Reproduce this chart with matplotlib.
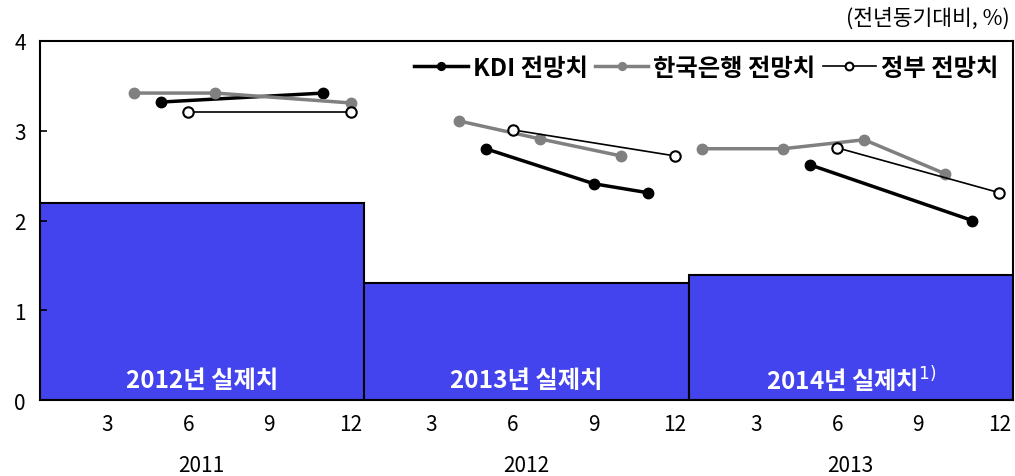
import matplotlib as mpl
mpl.use('Agg')
import matplotlib.pyplot as plt
import numpy as np

plt.rcParams['font.family'] = ['Noto Sans CJK KR', 'DejaVu Sans']

years = ['2011', '2012', '2013']
month_ticks = [3, 6, 9, 12]

# actual values for the following year, one bar per forecast year
actual_labels = ['2012년 실제치', '2013년 실제치', '2014년 실제치$^{1)}$']
actual_values = [2.2, 1.3, 1.39]

# forecasts: (year index, month, value)
kdi_fc = [
    [(0, 5, 3.32), (0, 11, 3.42)],
    [(1, 5, 2.80), (1, 9, 2.41), (1, 11, 2.31)],
    [(2, 5, 2.62), (2, 11, 2.00)],
]
bok_fc = [
    [(0, 4, 3.42), (0, 7, 3.42), (0, 12, 3.31)],
    [(1, 4, 3.11), (1, 7, 2.91), (1, 10, 2.72)],
    [(2, 1, 2.80), (2, 4, 2.80), (2, 7, 2.90), (2, 10, 2.52)],
]
gov_fc = [
    [(0, 6, 3.21), (0, 12, 3.21)],
    [(1, 6, 3.01), (1, 12, 2.72)],
    [(2, 6, 2.81), (2, 12, 2.31)],
]


def xpos(yi, m):
    return yi * 12 + m - 0.5


fig = plt.figure(figsize=(10.15, 4.77), dpi=100)
ax = fig.add_axes([0.039, 0.159, 0.959, 0.753])

bar_x = [6 + 12 * i for i in range(len(actual_values))]
ax.bar(bar_x, actual_values, width=12, color='#4444ee', edgecolor='black',
       linewidth=1.5, zorder=1)
for bx, lab in zip(bar_x, actual_labels):
    ax.text(bx, 0.23, lab, color='white', fontsize=17.5, fontweight='bold',
            ha='center', va='center', zorder=3)

def draw_series(groups, label, **kw):
    for k, g in enumerate(groups):
        xs = [xpos(yi, m) for yi, m, v in g]
        vs = [v for yi, m, v in g]
        ax.plot(xs, vs, label=label if k == 0 else None, zorder=4, **kw)

draw_series(kdi_fc, 'KDI 전망치', color='black', lw=2.5, marker='o', ms=7.5)
draw_series(bok_fc, '한국은행 전망치', color='#808080', lw=2.5, marker='o', ms=7.5)
draw_series(gov_fc, '정부 전망치', color='black', lw=1.2, marker='o', ms=7.5,
            mfc='white', mew=1.5)

ax.set_xlim(0, 36)
ax.set_ylim(0, 4)
ax.set_yticks([0, 1, 2, 3, 4])
ax.tick_params(axis='y', direction='in', length=5, width=1.2, labelsize=15, pad=10)

xt = [xpos(yi, m) for yi in range(len(years)) for m in month_ticks]
ax.set_xticks(xt)
ax.set_xticklabels([str(m) for yi in range(len(years)) for m in month_ticks])
ax.tick_params(axis='x', length=0, labelsize=15, pad=9)
for i, y in enumerate(years):
    ax.text(6 + 12 * i, -0.72, y, ha='center', va='center', fontsize=15)

for s in ax.spines.values():
    s.set_linewidth(1.5)

leg = ax.legend(loc='upper right', frameon=False, ncol=3, handlelength=2.2,
                handletextpad=0.2, columnspacing=0.3, borderaxespad=0.2,
                markerscale=0.75, prop={'size': 17.5, 'weight': 'bold'})

fig.text(0.995, 0.985, '(전년동기대비, %)', ha='right', va='top', fontsize=15.5)

fig.savefig('out.png')
